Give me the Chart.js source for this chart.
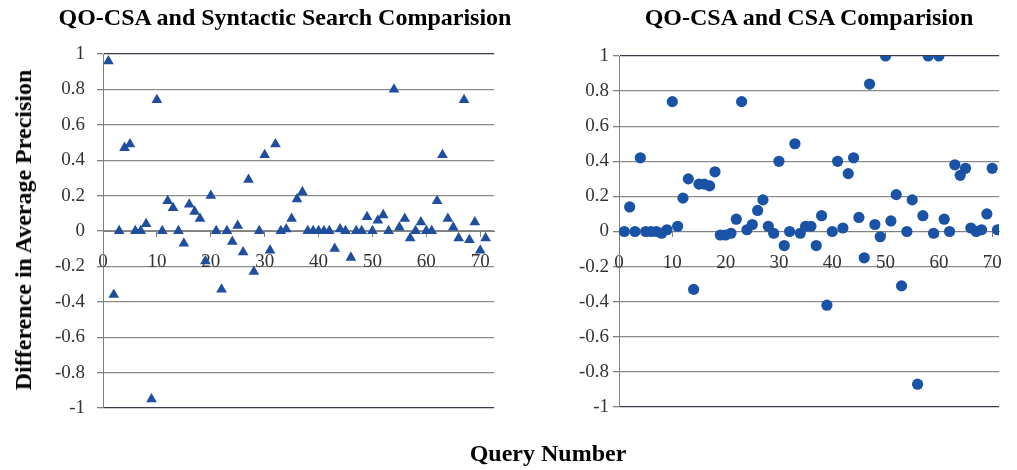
<!DOCTYPE html>
<html>
<head>
<meta charset="utf-8">
<script src="https://cdn.jsdelivr.net/npm/chart.js@4/dist/chart.umd.min.js"></script>
<style>
  body { margin: 0; background: #fff; width: 1017px; height: 470px; position: relative; overflow: hidden; font-family: "Liberation Serif", serif; }
  .box { position: absolute; top: 0; height: 440px; }
  .lbl { position: absolute; font-weight: bold; font-size: 24px; line-height: 28px; color: #000; white-space: nowrap; }
</style>
</head>
<body>
<div class="box" style="left:0;width:505px"><canvas id="chartLeft" width="505" height="440"></canvas></div>
<div class="box" style="left:505px;width:512px"><canvas id="chartRight" width="512" height="440"></canvas></div>
<div class="lbl" style="left:285px;top:17px;transform:translate(-50%,-50%)">QO-CSA and Syntactic Search Comparision</div>
<div class="lbl" style="left:809px;top:17px;transform:translate(-50%,-50%)">QO-CSA and CSA Comparision</div>
<div class="lbl" style="left:23px;top:230px;transform:translate(-50%,-50%) rotate(-90deg)">Difference in Average Precision</div>
<div class="lbl" style="left:548px;top:453px;transform:translate(-50%,-50%)">Query Number</div>
<script>
// numéros de requête (axe x)
const queries = [1, 2, 3, 4, 5, 6, 7, 8, 9, 10, 11, 12, 13, 14, 15, 16, 17, 18, 19, 20,
  21, 22, 23, 24, 25, 26, 27, 28, 29, 30, 31, 32, 33, 34, 35, 36, 37, 38, 39, 40,
  41, 42, 43, 44, 45, 46, 47, 48, 49, 50, 51, 52, 53, 54, 55, 56, 57, 58, 59, 60,
  61, 62, 63, 64, 65, 66, 67, 68, 69, 70, 71];

// QO-CSA vs Syntactic Search
const diffSyntactic = [0.96, -0.36, 0, 0.47, 0.49, 0, 0, 0.04, -0.95, 0.74,
  0, 0.17, 0.13, 0, -0.07, 0.15, 0.11, 0.07, -0.17, 0.2,
  0, -0.33, 0, -0.06, 0.03, -0.12, 0.29, -0.23, 0, 0.43,
  -0.11, 0.49, 0, 0.01, 0.07, 0.18, 0.22, 0, 0, 0,
  0, 0, -0.1, 0.01, 0, -0.15, 0, 0, 0.08, 0,
  0.06, 0.09, 0, 0.8, 0.02, 0.07, -0.04, 0, 0.05, 0,
  0, 0.17, 0.43, 0.07, 0.02, -0.04, 0.74, -0.05, 0.05, -0.11, -0.04];

// QO-CSA vs CSA
const diffCSA = [0, 0.14, 0, 0.42, 0, 0, 0, -0.01, 0.01, 0.74,
  0.03, 0.19, 0.3, -0.33, 0.27, 0.27, 0.26, 0.34, -0.02, -0.02,
  -0.01, 0.07, 0.74, 0.01, 0.04, 0.12, 0.18, 0.03, -0.01, 0.4,
  -0.08, 0, 0.5, -0.01, 0.03, 0.03, -0.08, 0.09, -0.42, 0,
  0.4, 0.02, 0.33, 0.42, 0.08, -0.15, 0.84, 0.04, -0.03, 1,
  0.06, 0.21, -0.31, 0, 0.18, -0.87, 0.09, 1, -0.01, 1,
  0.07, 0, 0.38, 0.32, 0.36, 0.02, 0, 0.01, 0.1, 0.36, 0.01];

const xTicks = [0, 10, 20, 30, 40, 50, 60, 70];
const yTicks = [-1, -0.8, -0.6, -0.4, -0.2, 0, 0.2, 0.4, 0.6, 0.8, 1];

const tickFont = { family: "'Liberation Serif', 'Times New Roman', serif", size: 19 };

function dibujar(id, valores, estilo, color, radio, opts) {
  const puntos = queries.map((q, i) => ({ x: q, y: valores[i] }));
  const ctx = document.getElementById(id).getContext('2d');
  return new Chart(ctx, {
    type: 'scatter',
    data: {
      datasets: [{
        data: puntos,
        pointStyle: estilo,
        pointRadius: radio,
        pointHoverRadius: radio,
        backgroundColor: color,
        borderColor: color,
        borderWidth: 0
      }]
    },
    options: {
      responsive: false,
      animation: false,
      layout: { padding: opts.padding },
      plugins: { legend: { display: false }, tooltip: { enabled: false } },
      scales: {
        x: {
          type: 'linear',
          position: { y: 0 },
          min: 0,
          max: opts.xMax,
          afterBuildTicks: s => { s.ticks = xTicks.map(v => ({ value: v })); },
          ticks: { font: tickFont, color: '#333', padding: 15, maxRotation: 0, includeBounds: false },
          grid: { drawOnChartArea: false, tickLength: 5, tickColor: '#808080' },
          border: { color: '#808080', width: 1 }
        },
        y: {
          min: -1,
          max: 1,
          afterFit: s => { s.width = opts.yWidth; },
          afterBuildTicks: s => { s.ticks = yTicks.map(v => ({ value: v })); },
          ticks: {
            font: tickFont, color: '#333', padding: opts.yPad,
            callback: v => String(Math.round(v * 10) / 10)
          },
          grid: {
            color: c => (c.tick && Math.abs(Math.abs(c.tick.value) - 1) < 1e-6) ? '#3a3a48' : '#8c8c8c',
            lineWidth: 1.3,
            tickLength: 6,
            tickColor: '#808080'
          },
          border: { color: '#808080', width: 1 }
        }
      }
    }
  });
}

dibujar('chartLeft', diffSyntactic, 'triangle', '#1f4e9e', 6.2,
  { padding: { top: 54, right: 8, bottom: 32, left: 0 }, xMax: 72.6, yWidth: 103, yPad: 12 });
dibujar('chartRight', diffCSA, 'circle', '#1a52a6', 5.6,
  { padding: { top: 56, right: 17, bottom: 33, left: 0 }, xMax: 71.3, yWidth: 114, yPad: 4 });
</script>
</body>
</html>
